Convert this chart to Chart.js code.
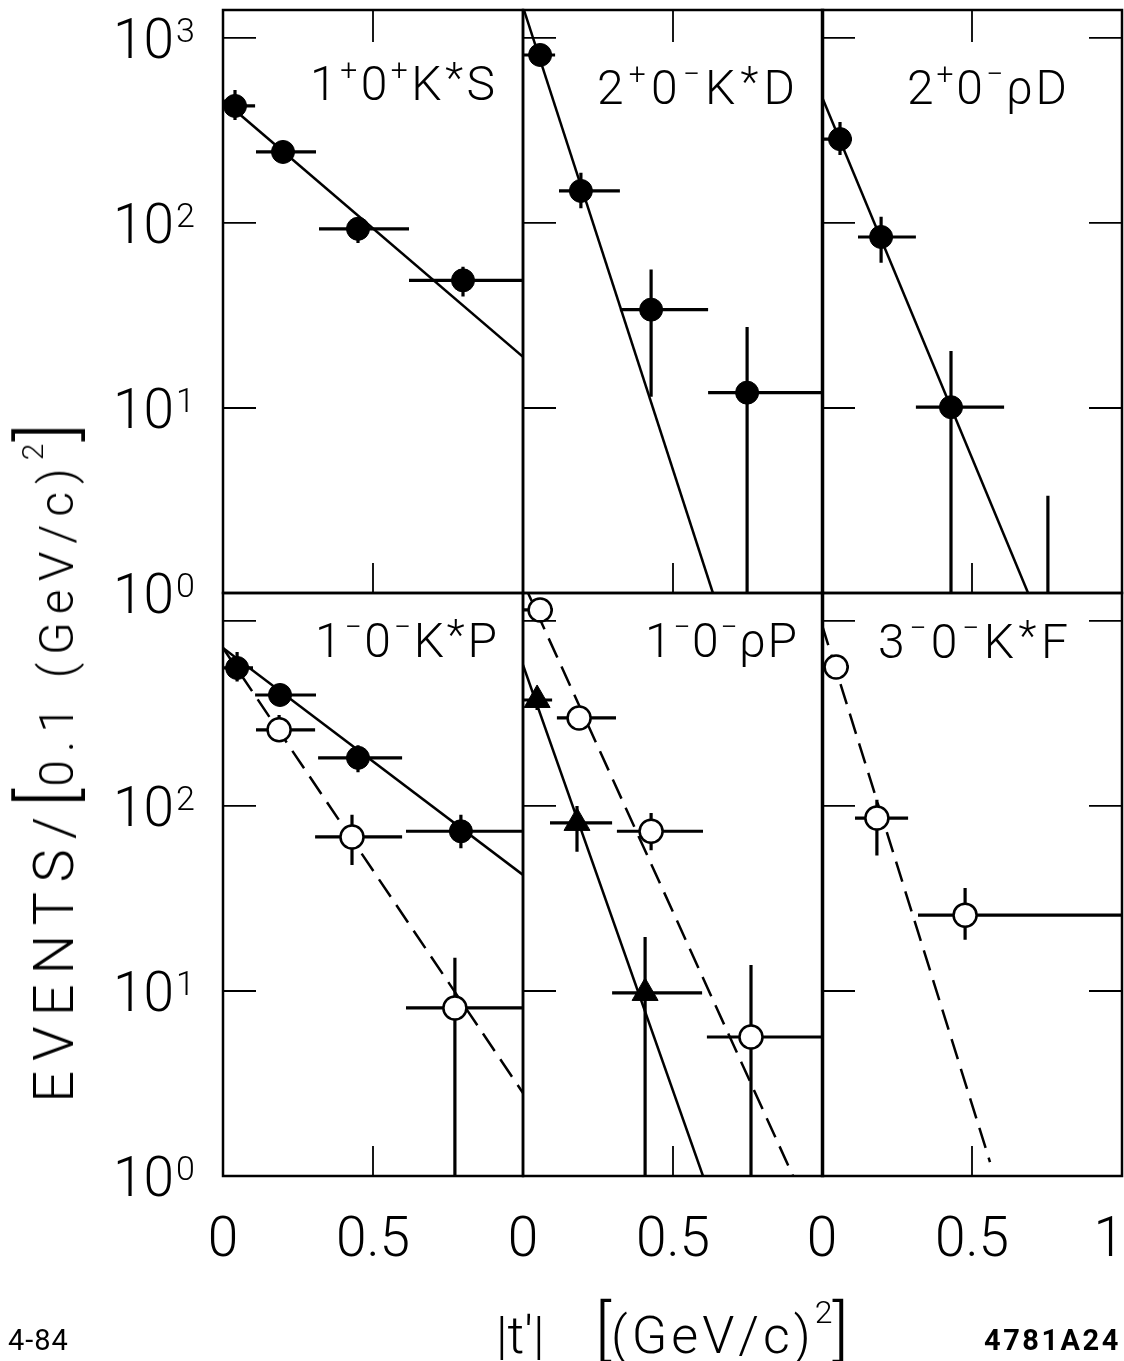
<!DOCTYPE html>
<html>
<head>
<meta charset="utf-8">
<script src="https://cdn.jsdelivr.net/npm/chart.js@4.4.1/dist/chart.umd.min.js"></script>
<style>
html, body { margin: 0; padding: 0; background: #fff; }
#page { position: relative; width: 1124px; height: 1361px; overflow: hidden; color: #000;
        font-family: Roboto, "DejaVu Sans", sans-serif; font-weight: 300; }
#page canvas { position: absolute; left: 0; top: 0; }
.txt { position: absolute; white-space: nowrap; line-height: 1; }
#ytitle { left: 47px; top: 762px; transform: translate(-50%, -50%) rotate(-90deg); font-size: 56px; letter-spacing: 10px; }
#ytitle .br { font-size: 76px; letter-spacing: 2px; }
#ytitle .sm { font-size: 48px; letter-spacing: 8px; }
#ytitle sup { font-size: 30px; vertical-align: 30px; letter-spacing: 2px; }
#xtitle { left: 496px; top: 1296px; font-size: 52px; }
#xtitle .un { letter-spacing: 4px; }
#xtitle .br { font-size: 66px; letter-spacing: 0; }
#xtitle sup { font-size: 32px; vertical-align: 30px; }
#date { left: 8px; top: 1326px; font-size: 29px; font-weight: 400; letter-spacing: 1px; }
#code { left: 984px; top: 1326px; font-size: 29px; font-weight: 700; letter-spacing: 2.5px; }
</style>
</head>
<body>
<div id="page">
  <canvas id="c1" width="1124" height="1361"></canvas>
  <canvas id="c2" width="1124" height="1361"></canvas>
  <canvas id="c3" width="1124" height="1361"></canvas>
  <canvas id="c4" width="1124" height="1361"></canvas>
  <canvas id="c5" width="1124" height="1361"></canvas>
  <canvas id="c6" width="1124" height="1361"></canvas>
  <div class="txt" id="ytitle">EVENTS/<span class="br">[</span><span class="sm">0.1 (GeV/c)</span><sup>2</sup><span class="br">]</span></div>
  <div class="txt" id="xtitle">|t′|&nbsp;&nbsp;&nbsp;&nbsp;<span class="br">[</span><span class="un">(GeV/c)</span><sup>2</sup><span class="br">]</span></div>
  <div class="txt" id="date">4-84</div>
  <div class="txt" id="code">4781A24</div>
</div>
<script>
// |t'| bins, events per 0.1 (GeV/c)^2

// 1+0+ K*S  (filled circles)
const kS_t   = [0.04, 0.2, 0.45, 0.8];
const kS_n   = [429, 242, 93, 49];
const kS_err = [[360, 524], [212, 275], [78, 106], [40, 58]];
const kS_bin = [[0, 0.107], [0.11, 0.31], [0.32, 0.62], [0.62, 1]];
const kS_fitT = [0, 1];
const kS_fitN = [462, 18.9];

// 2+0- K*D  (filled circles)
const kD_t   = [0.057, 0.193, 0.427, 0.747];
const kD_n   = [809, 149, 34, 12.1];
const kD_err = [[720, 900], [120, 187], [11.5, 56], [0.1, 27.4]];
const kD_bin = [[0, 0.107], [0.12, 0.323], [0.323, 0.617], [0.617, 1]];
const kD_fitT = [0, 0.633];
const kD_fitN = [1470, 1];

// 2+0- rho D  (filled circles, last one below 1)
const rD_t   = [0.06, 0.197, 0.43, 0.753];
const rD_n   = [284, 84, 10.1, 0.5];
const rD_err = [[233, 351], [61, 108], [0.1, 20.3], [0.1, 3.35]];
const rD_bin = [[0, 0.1], [0.12, 0.313], [0.313, 0.607], [0.6, 1]];
const rD_fitT = [0, 0.687];
const rD_fitN = [480, 1];

// 1-0- K*P  (filled and open circles)
const kPf_t   = [0.047, 0.19, 0.45, 0.793];
const kPf_n   = [557, 398, 182, 73];
const kPf_err = [[470, 680], [365, 435], [152, 213], [59, 89.6]];
const kPf_bin = [[0, 0.1], [0.107, 0.31], [0.317, 0.597], [0.61, 1]];
const kPo_t   = [0.187, 0.43, 0.773];
const kPo_n   = [258, 68, 8.1];
const kPo_err = [[222, 310], [48, 89.6], [0.1, 15.1]];
const kPo_bin = [[0.11, 0.307], [0.307, 0.597], [0.61, 1]];
const kPf_fitT = [0, 1];
const kPf_fitN = [714, 42.4];
const kPo_fitT = [0, 1];
const kPo_fitN = [714, 2.81];

// 1-0- rho P  (open circles and filled triangles)
const rPo_t   = [0.057, 0.187, 0.427, 0.76];
const rPo_n   = [1147, 299, 73, 5.64];
const rPo_err = [[1060, 1240], [270, 330], [57.6, 91.6], [0.1, 13.8]];
const rPo_bin = [[0, 0.1], [0.113, 0.31], [0.313, 0.6], [0.613, 1]];
const rPt_t   = [0.047, 0.18, 0.407];
const rPt_n   = [374, 81, 9.76];
const rPt_err = [[330, 420], [56.5, 100], [0.1, 19.6]];
const rPt_bin = [[0, 0.097], [0.09, 0.297], [0.297, 0.597]];
const rPo_fitT = [0, 0.9];
const rPo_fitN = [1625, 1];
const rPt_fitT = [0, 0.6];
const rPt_fitN = [578, 1];

// 3-0- K*F  (open circles)
const kF_t   = [0.047, 0.183, 0.477];
const kF_n   = [564, 86, 25.7];
const kF_err = [[530, 600], [54, 108], [18.9, 36]];
const kF_bin = [[0, 0.09], [0.11, 0.287], [0.32, 1]];
const kF_fitT = [0, 0.56];
const kF_fitN = [951, 1.19];

// axis ticks
const yTicks = [1, 10, 100, 1000];
const xTicks = [0, 0.5, 1];
const yMin = 1, yMax = 1416;

// panel geometry
const W = 1124, H = 1361;
const colLeft = [223, 523, 822];
const rowTop = [10, 593];
const panelW = 300, panelH = 583;

const LIGHT = '"Roboto", "DejaVu Sans", sans-serif';

function ser(t, n, err, bin, kind) { return { t, n, err, bin, kind }; }
function fit(t, n, dashed) { return { t, n, dashed }; }

const panels = [
  { id: 'c1', col: 0, row: 0,
    label: [['1'], ['+', 1], ['0'], ['+', 1], ['K'], ['*', 2], ['S']], lx: [87, 272], lb: 90,
    series: [ser(kS_t, kS_n, kS_err, kS_bin, 'filled')],
    fits: [fit(kS_fitT, kS_fitN, false)] },
  { id: 'c2', col: 1, row: 0,
    label: [['2'], ['+', 1], ['0'], ['−', 1], ['K'], ['*', 2], ['D']], lx: [74, 272], lb: 94,
    series: [ser(kD_t, kD_n, kD_err, kD_bin, 'filled')],
    fits: [fit(kD_fitT, kD_fitN, false)] },
  { id: 'c3', col: 2, row: 0,
    label: [['2'], ['+', 1], ['0'], ['−', 1], ['ρ'], ['D']], lx: [85, 245], lb: 94,
    series: [ser(rD_t, rD_n, rD_err, rD_bin, 'filled')],
    fits: [fit(rD_fitT, rD_fitN, false)] },
  { id: 'c4', col: 0, row: 1,
    label: [['1'], ['−', 1], ['0'], ['−', 1], ['K'], ['*', 2], ['P']], lx: [92, 274], lb: 64,
    series: [ser(kPf_t, kPf_n, kPf_err, kPf_bin, 'filled'), ser(kPo_t, kPo_n, kPo_err, kPo_bin, 'open')],
    fits: [fit(kPf_fitT, kPf_fitN, false), fit(kPo_fitT, kPo_fitN, true)] },
  { id: 'c5', col: 1, row: 1,
    label: [['1'], ['−', 1], ['0'], ['−', 1], ['ρ'], ['P']], lx: [122, 274], lb: 64,
    series: [ser(rPo_t, rPo_n, rPo_err, rPo_bin, 'open'), ser(rPt_t, rPt_n, rPt_err, rPt_bin, 'triangle')],
    fits: [fit(rPo_fitT, rPo_fitN, true), fit(rPt_fitT, rPt_fitN, false)] },
  { id: 'c6', col: 2, row: 1,
    label: [['3'], ['−', 1], ['0'], ['−', 1], ['K'], ['*', 2], ['F']], lx: [56, 246], lb: 65,
    series: [ser(kF_t, kF_n, kF_err, kF_bin, 'open')],
    fits: [fit(kF_fitT, kF_fitN, true)] }
];

// label parts: [text] big, [text, 1] superscript, [text, 2] large superscript (asterisk)
function drawLabel(ctx, parts, x0, x1, base) {
  const fonts = ['300 48px ' + LIGHT, '300 30px ' + LIGHT, '300 42px ' + LIGHT];
  const shift = [0, -20, -8];
  const w = parts.map(p => { ctx.font = fonts[p[1] || 0]; return ctx.measureText(p[0]).width; });
  const gap = (x1 - x0 - w.reduce((a, b) => a + b, 0)) / (parts.length - 1);
  let x = x0;
  ctx.textAlign = 'left';
  ctx.textBaseline = 'alphabetic';
  parts.forEach((p, i) => {
    ctx.font = fonts[p[1] || 0];
    ctx.fillText(p[0], x, base + shift[p[1] || 0]);
    x += w[i] + gap;
  });
}

function panelPlugin(p) {
  return {
    id: 'panel' + p.id,
    beforeDatasetsDraw(chart) {
      const { ctx, chartArea: a, scales: { x, y } } = chart;
      ctx.save();
      ctx.beginPath();
      ctx.rect(a.left, a.top, a.right - a.left, a.bottom - a.top);
      ctx.clip();
      ctx.strokeStyle = '#000';
      ctx.lineWidth = 3.2;
      p.series.forEach(s => s.t.forEach((t, i) => {
        const px = x.getPixelForValue(t), py = y.getPixelForValue(s.n[i]);
        ctx.beginPath();
        ctx.moveTo(x.getPixelForValue(s.bin[i][0]), py);
        ctx.lineTo(x.getPixelForValue(s.bin[i][1]), py);
        ctx.moveTo(px, y.getPixelForValue(s.err[i][0]));
        ctx.lineTo(px, y.getPixelForValue(s.err[i][1]));
        ctx.stroke();
      }));
      ctx.restore();
    },
    afterDraw(chart) {
      const { ctx, chartArea: a, scales: { x, y } } = chart;
      ctx.save();
      ctx.strokeStyle = '#000';
      ctx.fillStyle = '#000';
      ctx.lineWidth = 2.5;
      ctx.strokeRect(a.left, a.top, a.right - a.left, a.bottom - a.top);

      // inward ticks
      ctx.lineWidth = 1.8;
      ctx.beginPath();
      yTicks.slice(1).forEach(v => {
        const py = y.getPixelForValue(v);
        ctx.moveTo(a.left, py); ctx.lineTo(a.left + 33, py);
        if (p.col === 2) { ctx.moveTo(a.right, py); ctx.lineTo(a.right - 33, py); }
      });
      const px5 = x.getPixelForValue(0.5);
      if (p.row === 0) { ctx.moveTo(px5, a.top); ctx.lineTo(px5, a.top + 32); }
      ctx.moveTo(px5, a.bottom); ctx.lineTo(px5, a.bottom - 30);
      ctx.stroke();

      // y tick labels, left column only
      if (p.col === 0) {
        const vals = p.row === 0 ? yTicks : yTicks.slice(0, 3);
        vals.forEach(v => {
          const py = y.getPixelForValue(v);
          ctx.textBaseline = 'alphabetic';
          ctx.textAlign = 'right';
          ctx.font = '300 55px ' + LIGHT;
          ctx.fillText('10', 174, py + 20);
          ctx.textAlign = 'left';
          ctx.font = '300 34px ' + LIGHT;
          ctx.fillText(String(Math.round(Math.log10(v))), 176, py + 4);
        });
      }
      // x tick labels, bottom row only; the last "1" sits flush with the right edge
      if (p.row === 1) {
        const vals = p.col === 2 ? xTicks : xTicks.slice(0, 2);
        ctx.textBaseline = 'alphabetic';
        ctx.font = '300 55px ' + LIGHT;
        vals.forEach(v => {
          const px = x.getPixelForValue(v);
          if (v === 1) { ctx.textAlign = 'right'; ctx.fillText(String(v), px + 2, 1256); }
          else { ctx.textAlign = 'center'; ctx.fillText(String(v), px, 1256); }
        });
      }
      drawLabel(ctx, p.label, a.left + p.lx[0], a.left + p.lx[1], a.top + p.lb);
      ctx.restore();
    }
  };
}

panels.forEach(p => {
  const L = colLeft[p.col], T = rowTop[p.row];
  const datasets = [];
  p.series.forEach(s => {
    const tri = s.kind === 'triangle';
    datasets.push({
      data: s.t.map((t, i) => ({ x: t, y: s.n[i] })),
      pointStyle: tri ? 'triangle' : 'circle',
      pointRadius: tri ? 15 : 11.5,
      backgroundColor: s.kind === 'open' ? '#fff' : '#000',
      borderColor: '#000',
      borderWidth: s.kind === 'open' ? 2.5 : 1,
      showLine: false
    });
  });
  p.fits.forEach(f => {
    datasets.push({
      data: f.t.map((t, i) => ({ x: t, y: f.n[i] })),
      showLine: true,
      pointRadius: 0,
      borderColor: '#000',
      borderWidth: 2.5,
      borderDash: f.dashed ? [21, 10] : []
    });
  });
  new Chart(document.getElementById(p.id), {
    type: 'scatter',
    data: { datasets },
    options: {
      responsive: false,
      animation: false,
      devicePixelRatio: 1,
      events: [],
      layout: { autoPadding: false, padding: { left: L, top: T, right: W - L - panelW, bottom: H - T - panelH } },
      plugins: { legend: { display: false }, tooltip: { enabled: false } },
      scales: {
        x: { type: 'linear', min: 0, max: 1, display: false },
        y: { type: 'logarithmic', min: yMin, max: yMax, display: false }
      }
    },
    plugins: [panelPlugin(p)]
  });
});
</script>
</body>
</html>
